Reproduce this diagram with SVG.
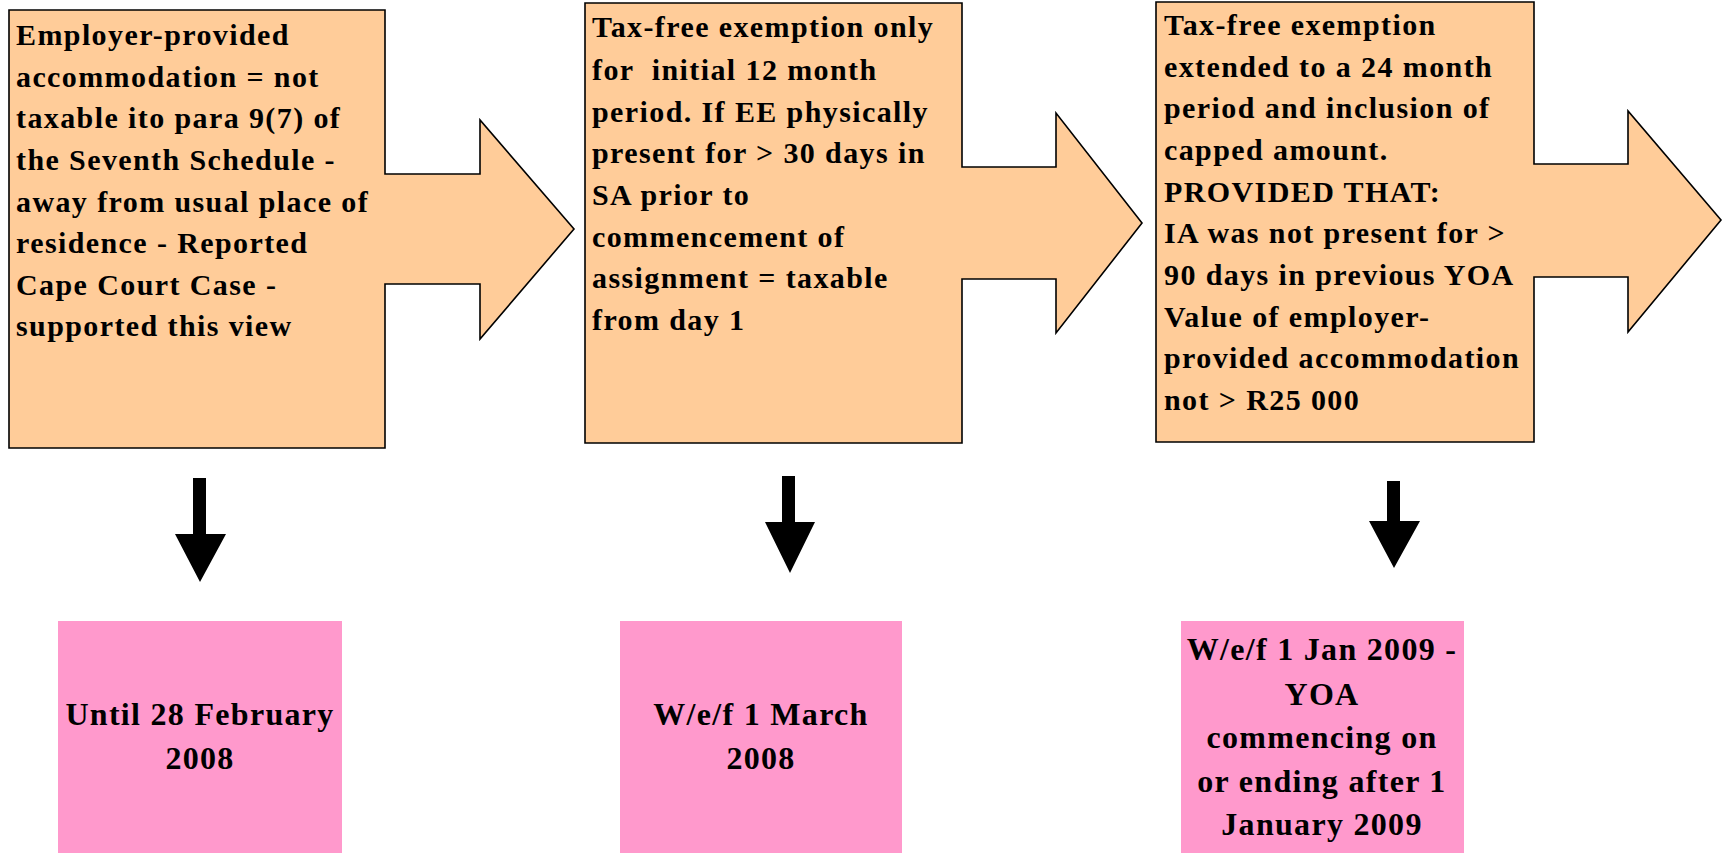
<svg xmlns="http://www.w3.org/2000/svg" width="1729" height="853" viewBox="0 0 1729 853">
<style>
.box{fill:#FFCC99;stroke:#000;stroke-width:1.6}
.date{fill:#FF99CC}
.t{font-family:"Liberation Serif","Times New Roman",serif;font-weight:bold;font-size:30px;letter-spacing:1.4px;fill:#000}
.d{font-family:"Liberation Serif","Times New Roman",serif;font-weight:bold;font-size:32px;letter-spacing:1.3px;fill:#000;text-anchor:middle}
.arr{fill:#000}
</style>
<rect width="1729" height="853" fill="#fff"/>
<g id="node1">
<path class="box" d="M9,10 H385 V174 H480 V120 L574,229 L480,339 V284 H385 V448 H9 Z"/>
<text class="t"><tspan x="16" y="45">Employer-provided</tspan><tspan x="16" y="87">accommodation = not</tspan><tspan x="16" y="128">taxable ito para 9(7) of</tspan><tspan x="16" y="170">the Seventh Schedule -</tspan><tspan x="16" y="212">away from usual place of</tspan><tspan x="16" y="253">residence - Reported</tspan><tspan x="16" y="295">Cape Court Case -</tspan><tspan x="16" y="336">supported this view</tspan></text>
</g>
<g id="node2">
<path class="box" d="M585,3 H962 V167 H1056 V113 L1142,223 L1056,333 V279 H962 V443 H585 Z"/>
<text class="t" xml:space="preserve"><tspan x="592" y="37">Tax-free exemption only</tspan><tspan x="592" y="80">for  initial 12 month</tspan><tspan x="592" y="122">period. If EE physically</tspan><tspan x="592" y="163">present for &gt; 30 days in</tspan><tspan x="592" y="205">SA prior to</tspan><tspan x="592" y="247">commencement of</tspan><tspan x="592" y="288">assignment = taxable</tspan><tspan x="592" y="330">from day 1</tspan></text>
</g>
<g id="node3">
<path class="box" d="M1156,2 H1534 V164 H1628 V111 L1721,220 L1628,332 V277 H1534 V442 H1156 Z"/>
<text class="t"><tspan x="1164" y="35">Tax-free exemption</tspan><tspan x="1164" y="77">extended to a 24 month</tspan><tspan x="1164" y="118">period and inclusion of</tspan><tspan x="1164" y="160">capped amount.</tspan><tspan x="1164" y="202">PROVIDED THAT:</tspan><tspan x="1164" y="243">IA was not present for &gt;</tspan><tspan x="1164" y="285">90 days in previous YOA</tspan><tspan x="1164" y="327">Value of employer-</tspan><tspan x="1164" y="368">provided accommodation</tspan><tspan x="1164" y="410">not &gt; R25 000</tspan></text>
</g>
<g id="date1">
<rect class="date" x="58" y="621" width="284" height="232"/>
<text class="d"><tspan x="200" y="725">Until 28 February</tspan><tspan x="200" y="769">2008</tspan></text>
</g>
<g id="date2">
<rect class="date" x="620" y="621" width="282" height="232"/>
<text class="d"><tspan x="761" y="725">W/e/f 1 March</tspan><tspan x="761" y="769">2008</tspan></text>
</g>
<g id="date3">
<rect class="date" x="1181" y="621" width="283" height="232"/>
<text class="d"><tspan x="1322" y="660">W/e/f 1 Jan 2009 -</tspan><tspan x="1322" y="705">YOA</tspan><tspan x="1322" y="748">commencing on</tspan><tspan x="1322" y="792">or ending after 1</tspan><tspan x="1322" y="835">January 2009</tspan></text>
</g>
<g id="connectors">
<polygon class="arr" points="193,478 206,478 206,534 226,534 200,582 175,534 193,534"/>
<polygon class="arr" points="782,476 795,476 795,522 815,522 790,573 765,522 782,522"/>
<polygon class="arr" points="1387,481 1400,481 1400,521 1420,521 1394,568 1369,521 1387,521"/>
</g>
</svg>
